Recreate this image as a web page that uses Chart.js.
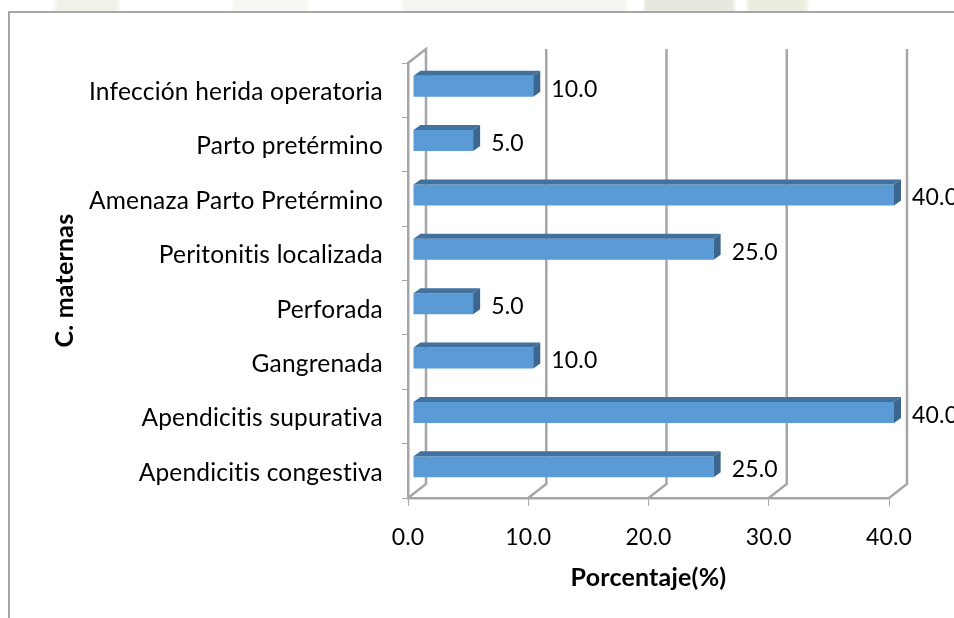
<!DOCTYPE html>
<html lang="es">
<head>
    <meta charset="utf-8">
    <style>
        html, body { margin: 0; padding: 0; background: #fff; overflow: hidden; }
        /* faint watermark showing above the chart frame */
        #strip {
            position: absolute; left: 0; top: 0; width: 954px; height: 12px;
            background: linear-gradient(to right,
                #fff 52px, #f0f2ea 58px, #f0f2ea 116px, #fff 122px,
                #fff 230px, #f6f6f2 236px, #f6f6f2 304px, #fff 310px,
                #fff 400px, #f4f4f0 406px, #f4f4f0 624px, #fff 630px,
                #fff 643px, #e8e7e0 646px, #e8e7e0 732px, #fff 737px,
                #fff 745px, #ebeddf 750px, #ebeddf 805px, #fff 810px);
        }
        #frame {
            position: absolute; left: 8px; top: 11px; right: 0; bottom: 0;
            border-left: 2px solid #a6a6a6; border-top: 2px solid #a6a6a6;
        }
        #chartBox { position: absolute; left: 0; top: 0; width: 954px; height: 618px; }
    </style>
</head>
<body>
<div id="strip"></div>
<div id="frame"></div>
<div id="chartBox"><canvas id="myChart"></canvas></div>
<script src="https://cdn.jsdelivr.net/npm/chart.js"></script>
<script>
    const categories = [
        'Infección herida operatoria',
        'Parto pretérmino',
        'Amenaza Parto Pretérmino',
        'Peritonitis localizada',
        'Perforada',
        'Gangrenada',
        'Apendicitis supurativa',
        'Apendicitis congestiva'
    ];
    const values = [10, 5, 40, 25, 5, 10, 40, 25];
    const xTicks = [0, 10, 20, 30, 40];

    const FONT = 'Lato, sans-serif';
    const GRID = '#a6a6a6';
    // fake 3D: bars sit part way into the floor depth
    const BAR_SHIFT_X = 5, BAR_SHIFT_Y = -4;
    const BAR_DX = 7, BAR_DY = 5;
    const WALL_DX = 18, WALL_DY = 14;

    const wallPlugin = {
        id: 'wall',
        beforeDraw(chart) {
            // a little spacing also switches off Lato's "ti" ligature
            chart.ctx.letterSpacing = '0.2px';
        },
        beforeDatasetsDraw(chart) {
            const ctx = chart.ctx, a = chart.chartArea, x = chart.scales.x;
            ctx.save();
            ctx.strokeStyle = GRID;
            ctx.lineWidth = 2.5;
            xTicks.forEach(v => {
                const px = x.getPixelForValue(v);
                ctx.beginPath();
                ctx.moveTo(px, a.bottom);
                ctx.lineTo(px + WALL_DX, a.bottom - WALL_DY);
                ctx.lineTo(px + WALL_DX, a.top - WALL_DY);
                if (v === 0) ctx.lineTo(px, a.top);
                ctx.stroke();
            });
            ctx.restore();
        },
        beforeDatasetDraw(chart) {
            chart.ctx.save();
            chart.ctx.translate(BAR_SHIFT_X, BAR_SHIFT_Y);
        },
        afterDatasetDraw(chart) {
            const ctx = chart.ctx;
            // top and side faces, using the bars the library laid out
            chart.getDatasetMeta(0).data.forEach(bar => {
                const h = bar.height / 2;
                ctx.fillStyle = '#41719c';
                ctx.beginPath();
                ctx.moveTo(bar.base, bar.y - h);
                ctx.lineTo(bar.base + BAR_DX, bar.y - h - BAR_DY);
                ctx.lineTo(bar.x + BAR_DX, bar.y - h - BAR_DY);
                ctx.lineTo(bar.x, bar.y - h);
                ctx.closePath();
                ctx.fill();
                ctx.fillStyle = '#3a6690';
                ctx.beginPath();
                ctx.moveTo(bar.x, bar.y - h);
                ctx.lineTo(bar.x + BAR_DX, bar.y - h - BAR_DY);
                ctx.lineTo(bar.x + BAR_DX, bar.y + h - BAR_DY);
                ctx.lineTo(bar.x, bar.y + h);
                ctx.closePath();
                ctx.fill();
            });
            ctx.restore();
        },
        afterDatasetsDraw(chart) {
            const ctx = chart.ctx;
            ctx.save();
            ctx.font = '23px ' + FONT;
            ctx.fillStyle = '#000';
            ctx.textBaseline = 'middle';
            chart.getDatasetMeta(0).data.forEach((bar, i) => {
                ctx.fillText(values[i].toFixed(1), bar.x + 23, bar.y - 1);
            });
            ctx.restore();
        }
    };

    new Chart(document.getElementById('myChart'), {
        type: 'bar',
        data: {
            labels: categories,
            datasets: [{
                data: values,
                backgroundColor: '#5b9bd5',
                borderWidth: 0,
                barPercentage: 21 / 54.4,
                categoryPercentage: 1
            }]
        },
        options: {
            indexAxis: 'y',
            responsive: true,
            maintainAspectRatio: false,
            animation: false,
            layout: { padding: { top: 63, right: 65, left: 0, bottom: 0 } },
            plugins: { legend: { display: false }, tooltip: { enabled: false } },
            scales: {
                x: {
                    min: 0,
                    max: 40,
                    afterFit(scale) { scale.height = 120; },
                    afterBuildTicks(scale) { scale.ticks = xTicks.map(v => ({ value: v })); },
                    grid: { drawOnChartArea: false, color: GRID, tickLength: 8, lineWidth: 1 },
                    border: { color: GRID, width: 2.5 },
                    ticks: {
                        maxRotation: 0,
                        padding: 18,
                        color: '#000',
                        font: { family: FONT, size: 23 },
                        callback: v => v.toFixed(1)
                    },
                    title: {
                        display: true,
                        text: 'Porcentaje(%)',
                        color: '#000',
                        font: { family: FONT, size: 25, weight: 'bold' },
                        padding: { top: 0, bottom: 25 }
                    }
                },
                y: {
                    afterFit(scale) { scale.width = 408; },
                    grid: { drawOnChartArea: false, color: GRID, tickLength: 6, lineWidth: 1 },
                    border: { color: GRID, width: 2.5 },
                    ticks: {
                        padding: 19,
                        labelOffset: 2,
                        color: '#000',
                        font: { family: FONT, size: 24.5 }
                    },
                    title: {
                        display: true,
                        text: 'C. maternas',
                        color: '#000',
                        font: { family: FONT, size: 25, weight: 'bold' },
                        padding: { top: 50, bottom: 0 }
                    }
                }
            }
        },
        plugins: [wallPlugin]
    });
</script>
</body>
</html>
